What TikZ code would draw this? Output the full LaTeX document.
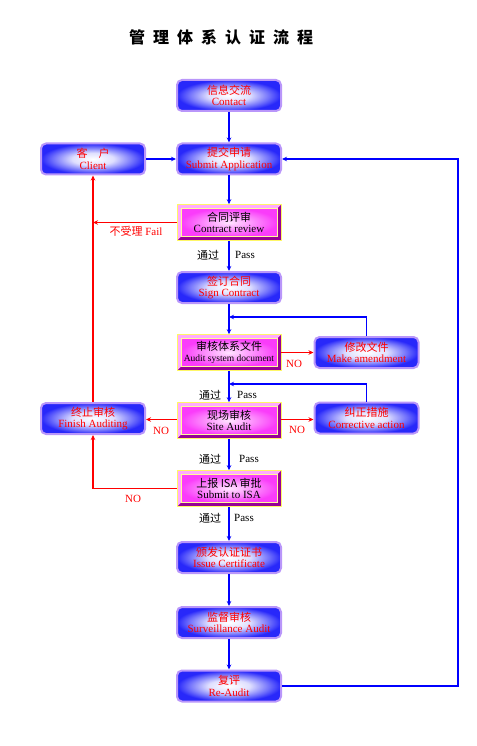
\documentclass[tikz,border=0pt]{standalone}
\usepackage{fontspec}
\setmainfont{Liberation Serif}
\newfontfamily\cjk{Noto Sans CJK SC}
\usetikzlibrary{arrows.meta}

\definecolor{boxblue}{RGB}{40,40,250}
\definecolor{boxedge}{RGB}{185,150,250}
\definecolor{magface}{RGB}{250,60,250}
\definecolor{maglight}{RGB}{255,170,255}
\definecolor{magdark}{RGB}{150,0,150}
\definecolor{linkblue}{RGB}{0,0,255}
\definecolor{linkred}{RGB}{255,0,0}

\pgfdeclareradialshading{boxglow}{\pgfpoint{0bp}{0bp}}{%
  color(0bp)=(white); color(10bp)=(white!85!boxblue);
  color(19bp)=(white!35!boxblue); color(25bp)=(boxblue); color(50bp)=(boxblue)}

\newcommand{\tsp}{\hspace{8pt}}

\tikzset{
  bluebox/.style={rounded corners=5pt, draw=boxedge, line width=2pt,
    shade, shading=boxglow,
    minimum width=104pt, minimum height=31pt, inner sep=1pt,
    text=red, align=center, font=\fontsize{11}{11.5}\selectfont},
  magbox/.style={draw=yellow!60, line width=0.6pt, fill=magdark,
    minimum width=104pt, minimum height=36pt, inner sep=1pt,
    text=black, align=center, font=\fontsize{11}{11.5}\selectfont,
    path picture={
      \fill[maglight] (path picture bounding box.north west)
        -- (path picture bounding box.north east)
        -- ([xshift=-4pt,yshift=-4pt]path picture bounding box.north east)
        -- ([xshift=4pt,yshift=-4pt]path picture bounding box.north west)
        -- ([xshift=4pt,yshift=4pt]path picture bounding box.south west)
        -- (path picture bounding box.south west) -- cycle;
      \shade[inner color=maglight!30!white, outer color=magface]
        ([xshift=4pt,yshift=-4pt]path picture bounding box.north west)
        rectangle ([xshift=-4pt,yshift=4pt]path picture bounding box.south east);
      \draw[yellow!40, line width=0.4pt]
        ([xshift=4pt,yshift=-4pt]path picture bounding box.north west)
        rectangle ([xshift=-4pt,yshift=4pt]path picture bounding box.south east);
    }},
  flow/.style={draw=linkblue, line width=1.8pt, -{Stealth[length=5pt,width=4.5pt]}},
  backflow/.style={draw=linkblue, line width=1.3pt, -{Stealth[length=5pt,width=4.5pt]}},
  nogo/.style={draw=linkred, line width=1.6pt, -{Stealth[length=5pt,width=4.5pt]}},
  passlbl/.style={text=black, font=\fontsize{11}{11}\selectfont},
  nolbl/.style={text=red, font=\fontsize{11}{11}\selectfont}
}

\begin{document}
\begin{tikzpicture}[x=1pt,y=-1pt]
  \useasboundingbox (0,0) rectangle (476,746);

  % title
  \node (title) at (221,37) {\cjk\bfseries\fontsize{16}{16}\selectfont
    管\tsp 理\tsp 体\tsp 系\tsp 认\tsp 证\tsp 流\tsp 程};

  % main column
  \node[bluebox] (contact)  at (229,95.5)  {{\cjk 信息交流}\\Contact};
  \node[bluebox] (submit)   at (229,159)   {{\cjk 提交申请}\\Submit Application};
  \node[magbox]  (review)   at (229,222.5) {{\cjk 合同评审}\\Contract review};
  \node[bluebox] (sign)     at (229,287.5) {{\cjk 签订合同}\\Sign Contract};
  \node[magbox]  (auditdoc) at (229,352.5) {{\cjk 审核体系文件}\\{\fontsize{9.5}{10}\selectfont Audit system document}};
  \node[magbox]  (site)     at (229,420.5) {{\cjk 现场审核}\\Site Audit};
  \node[magbox]  (isa)      at (229,488.5) {{\cjk 上报 ISA 审批}\\Submit to ISA};
  \node[bluebox] (issue)    at (229,557.5) {{\cjk 颁发认证证书}\\Issue Certificate};
  \node[bluebox] (surveil)  at (229,622.5) {{\cjk 监督审核}\\Surveillance Audit};
  \node[bluebox] (reaudit)  at (229,686)   {{\cjk 复评}\\Re-Audit};

  % side boxes
  \node[bluebox] (client)     at (93,159)    {{\cjk 客\hspace{11pt}户}\\Client};
  \node[bluebox] (finish)     at (93,418.5)  {{\cjk 终止审核}\\Finish Auditing};
  \node[bluebox] (amend)      at (366.5,352.5) {{\cjk 修改文件}\\Make amendment};
  \node[bluebox] (corrective) at (366.5,418)   {{\cjk 纠正措施}\\Corrective action};

  \coordinate (join1) at (229,317);
  \coordinate (join2) at (229,384);
  \coordinate (loopcorner) at (458,686);

  % forward flow
  \draw[flow] (contact) -- (submit);
  \draw[flow] (client) -- (submit);
  \draw[flow] (submit) -- (review);
  \draw[flow] (review) -- (sign);
  \draw[flow] (sign) -- (auditdoc);
  \draw[flow] (auditdoc) -- (site);
  \draw[flow] (site) -- (isa);
  \draw[flow] (isa) -- (issue);
  \draw[flow] (issue) -- (surveil);
  \draw[flow] (surveil) -- (reaudit);

  % loops back
  \draw[backflow] (reaudit.east) -- (loopcorner) |- (submit.east);
  \draw[backflow] (amend.north) |- (join1);
  \draw[backflow] (corrective.north) |- (join2);

  % rejections
  \draw[nogo] (review.west) -- (review.west -| client.south);
  \draw[nogo] (finish.north) -- (client.south);
  \draw[nogo] (isa.west) -| (finish.south);
  \draw[nogo] ([yshift=1pt]site.west) -- ([yshift=1pt]site.west -| finish.east);
  \draw[nogo] ([yshift=1pt]site.east) -- ([yshift=1pt]site.east -| corrective.west);
  \draw[nogo] (auditdoc.east) -- (amend.west);

  % labels
  \node[nolbl] (faillbl) at (136,231) {{\cjk 不受理} Fail};
  \node[passlbl] (pass1a) at (208,255) {\cjk 通过};
  \node[passlbl] (pass1b) at (245,255) {Pass};
  \node[passlbl] (pass2a) at (210,395) {\cjk 通过};
  \node[passlbl] (pass2b) at (247,395) {Pass};
  \node[passlbl] (pass3a) at (210,459) {\cjk 通过};
  \node[passlbl] (pass3b) at (249,459) {Pass};
  \node[passlbl] (pass4a) at (210,518) {\cjk 通过};
  \node[passlbl] (pass4b) at (244,518) {Pass};
  \node[nolbl] (no1) at (294,364) {NO};
  \node[nolbl] (no2) at (297,430) {NO};
  \node[nolbl] (no3) at (161,431) {NO};
  \node[nolbl] (no4) at (133,499) {NO};
\end{tikzpicture}
\end{document}
